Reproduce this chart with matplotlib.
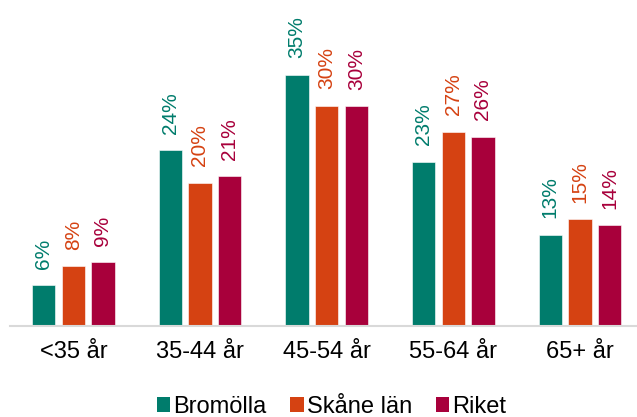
import numpy as np
import matplotlib.pyplot as plt
from matplotlib.patches import Patch

plt.rcParams['font.family'] = ['Liberation Sans', 'DejaVu Sans']

categories = ['<35 år', '35-44 år', '45-54 år', '55-64 år', '65+ år']
series_names = ['Bromölla', 'Skåne län', 'Riket']
bromolla = [5.7, 24.4, 34.9, 22.8, 12.7]
skane = [8.3, 19.9, 30.6, 27.0, 14.8]
riket = [8.9, 20.8, 30.5, 26.3, 14.0]
labels = [['6%', '24%', '35%', '23%', '13%'],
          ['8%', '20%', '30%', '27%', '15%'],
          ['9%', '21%', '30%', '26%', '14%']]
colors = ['#007C6C', '#D54212', '#A8003B']

fig = plt.figure(figsize=(6.37, 4.17), dpi=100)
ax = fig.add_axes([10 / 637, 91 / 417, 627 / 637, 326 / 417])

x = np.arange(len(categories))
step = 0.234
width = 0.184
for i, (vals, col) in enumerate(zip([bromolla, skane, riket], colors)):
    pos = x + (i - 1) * step
    ax.bar(pos, vals, width, color=col, edgecolor='white', linewidth=0.4)
    for px, v, lab in zip(pos, vals, labels[i]):
        ax.annotate(lab, (px, v), xytext=(0, 11.8), textcoords='offset points',
                    rotation=90, ha='center', va='bottom', fontsize=15, color=col)

ax.set_xlim(-0.5, 4.45)
ax.set_ylim(0, 326 / 7.2)
ax.set_xticks(x)
ax.set_xticklabels(categories, fontsize=17)
ax.tick_params(axis='x', length=0, pad=11)
ax.set_yticks([])
for s in ['top', 'right', 'left']:
    ax.spines[s].set_visible(False)
ax.spines['bottom'].set_color('#d9d9d9')
ax.spines['bottom'].set_linewidth(1.5)

handles = [Patch(facecolor=c, label=n) for c, n in zip(colors, series_names)]
fig.legend(handles=handles, loc='center left', bbox_to_anchor=(157 / 637, 0.025),
           ncol=3, frameon=False, fontsize=17, handlelength=0.57, handleheight=0.57,
           handletextpad=0.13, columnspacing=1.0, borderpad=0, borderaxespad=0)

fig.savefig('out.png', dpi=100)
